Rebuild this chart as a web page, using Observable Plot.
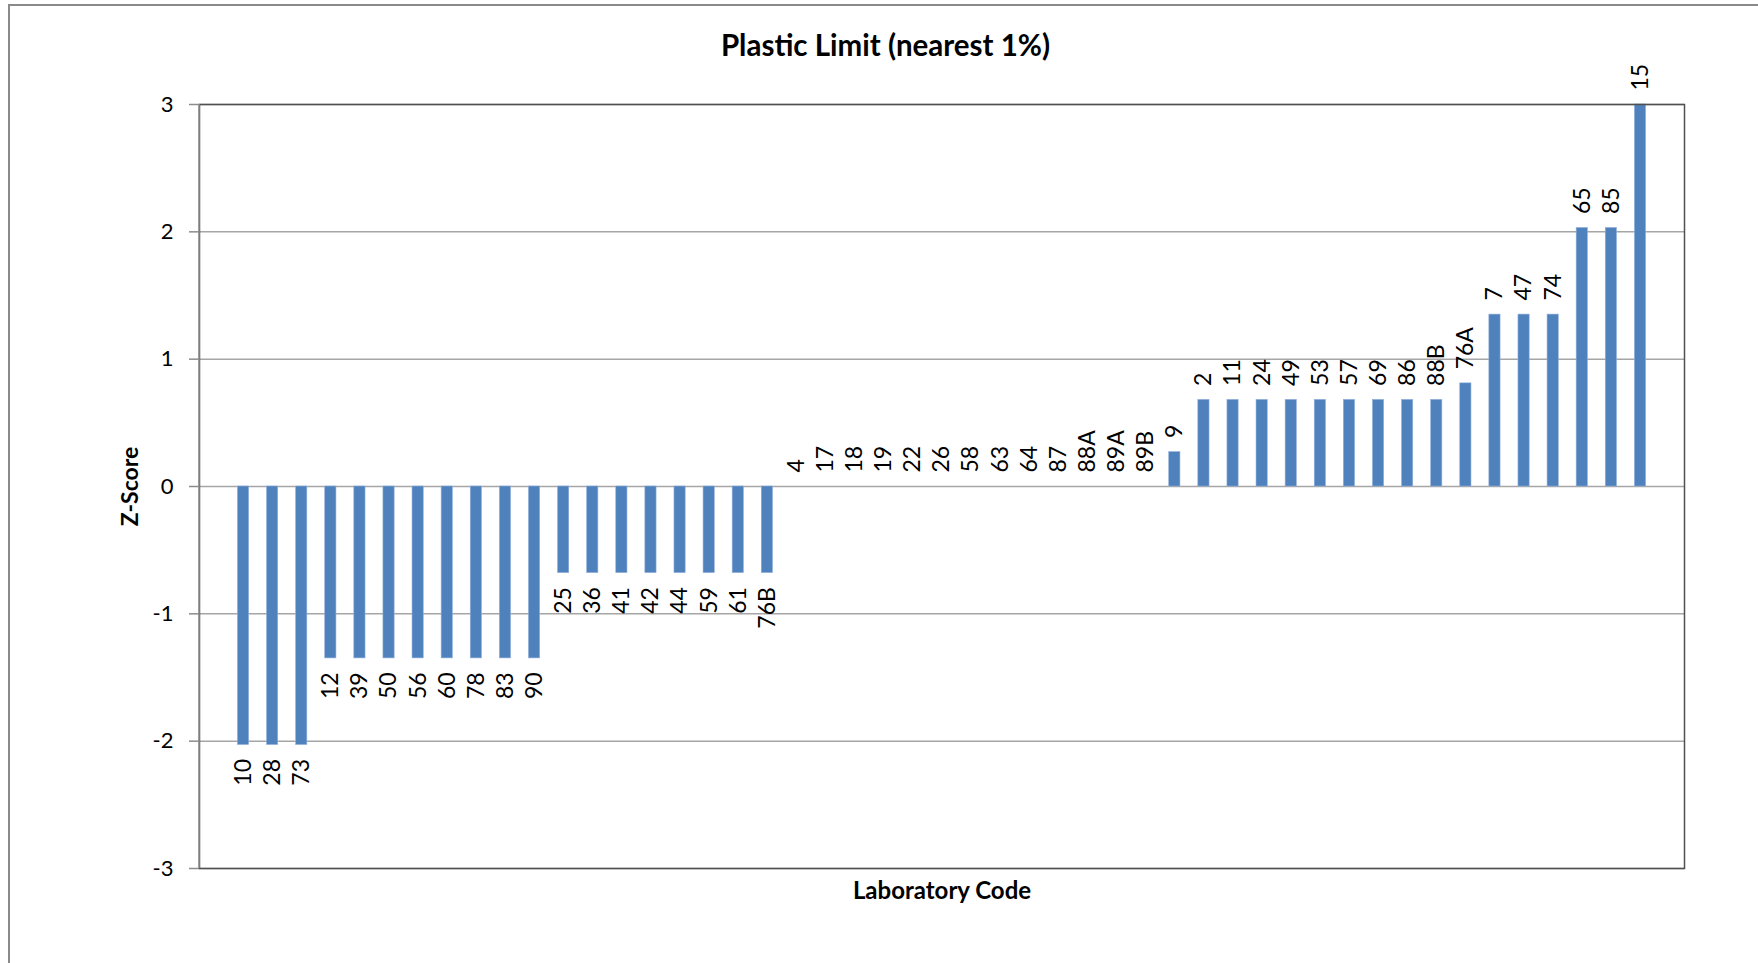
<!DOCTYPE html>
<html>
<head>
<meta charset="utf-8">
<script src="https://cdn.jsdelivr.net/npm/d3@7"></script>
<script src="https://cdn.jsdelivr.net/npm/@observablehq/plot@0.6"></script>
<style>
  html, body { margin: 0; padding: 0; background: #fff; overflow: hidden; width: 1758px; height: 963px; }
  #outer { position: absolute; left: 8px; top: 4px; width: 1900px; height: 1100px; border: 2px solid #8a8a8a; box-sizing: border-box; }
  #chart { position: absolute; left: 0; top: 0; }
</style>
</head>
<body>
<div id="outer"></div>
<div id="chart"></div>
<script>
// Laboratory codes, in chart order
const labs = ["10","28","73","12","39","50","56","60","78","83","90","25","36","41","42","44","59","61","76B",
  "4","17","18","19","22","26","58","63","64","87","88A","89A","89B","9",
  "2","11","24","49","53","57","69","86","88B","76A","7","47","74","65","85","15"];
// Z-scores
const zscores = [-2.03,-2.03,-2.03,-1.35,-1.35,-1.35,-1.35,-1.35,-1.35,-1.35,-1.35,-0.68,-0.68,-0.68,-0.68,-0.68,-0.68,-0.68,-0.68,
  0,0,0,0,0,0,0,0,0,0,0,0,0,0.27,
  0.68,0.68,0.68,0.68,0.68,0.68,0.68,0.68,0.68,0.81,1.35,1.35,1.35,2.03,2.03,3];
const yTicks = [-3,-2,-1,0,1,2,3];
const title = "Plastic Limit (nearest 1%)";
const xTitle = "Laboratory Code";
const yTitle = "Z-Score";

const data = labs.map((lab, i) => ({lab, z: zscores[i]}));
const font = "Lato, 'Open Sans', sans-serif";

const leftAxisLine = (index, scales, values, dim) => {
  const l = d3.create("svg:line")
    .attr("x1", dim.marginLeft).attr("x2", dim.marginLeft)
    .attr("y1", dim.marginTop).attr("y2", dim.height - dim.marginBottom)
    .attr("stroke", "#8c8c8c").attr("stroke-width", 1.5);
  return l.node();
};

const plot = Plot.plot({
  width: 1758,
  height: 963,
  marginLeft: 199,
  marginRight: 74,
  marginTop: 104,
  marginBottom: 95,
  style: {fontFamily: font, fontSize: "20px", color: "#000", background: "transparent"},
  x: {domain: labs, paddingInner: 0.615, paddingOuter: 1.32, round: false, axis: null},
  y: {domain: [-3, 3], axis: null},
  marks: [
    Plot.gridY(yTicks, {stroke: "#a6a6a6", strokeOpacity: 1, strokeWidth: 1.5}),
    Plot.barY(data, {x: "lab", y: "z", fill: "#4f81bd", stroke: "#8fb0dc", strokeWidth: 0.6}),
    Plot.frame({stroke: "#505050", strokeWidth: 1.5}),
    leftAxisLine,
    Plot.axisY(yTicks, {tickSize: 10, tickPadding: 16, stroke: "#8c8c8c", strokeWidth: 1.5, fontSize: 22, fill: "#000", label: null, tickFormat: d => String(d)}),
    Plot.text(data.filter(d => d.z >= 0), {x: "lab", y: "z", text: "lab", rotate: -90, textAnchor: "start", dy: -14, fontSize: 23, fill: "#000"}),
    Plot.text(data.filter(d => d.z < 0), {x: "lab", y: "z", text: "lab", rotate: -90, textAnchor: "end", dy: 14, fontSize: 23, fill: "#000"}),
    Plot.text([title], {frameAnchor: "top-left", dx: 686, dy: -58, textAnchor: "middle", lineAnchor: "middle", fontSize: 29.5, fontWeight: "bold", fill: "#000"}),
    Plot.text([xTitle], {frameAnchor: "bottom", dy: 23, textAnchor: "middle", lineAnchor: "middle", fontSize: 24, fontWeight: "bold", fill: "#000"}),
    Plot.text([yTitle], {frameAnchor: "left", dx: -69, dy: 0, rotate: -90, textAnchor: "middle", lineAnchor: "middle", fontSize: 23, fontWeight: "bold", fill: "#000"})
  ]
});
document.getElementById("chart").appendChild(plot);
</script>
</body>
</html>
